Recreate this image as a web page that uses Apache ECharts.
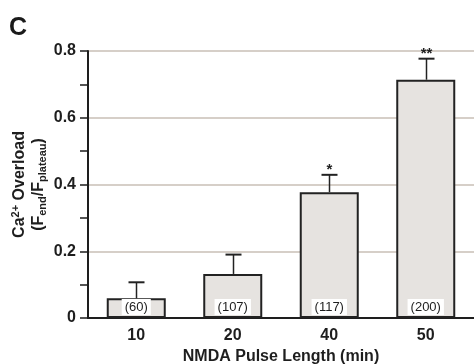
<!DOCTYPE html>
<html><head><meta charset="utf-8">
<script src="https://cdn.jsdelivr.net/npm/echarts@6/dist/echarts.min.js"></script>
<style>html,body{margin:0;padding:0;background:#fff}#c{width:474px;height:364px}</style>
</head><body><div id="c"></div>
<script>
var categories = ['10', '20', '40', '50'];
var means = [0.059, 0.132, 0.377, 0.714];
var errTops = [0.107, 0.190, 0.429, 0.777];
var counts = ['(60)', '(107)', '(117)', '(200)'];
var stars = ['', '', '*', '**'];
var yTicks = [0, 0.2, 0.4, 0.6, 0.8];

var FONT = '"Liberation Sans", Arial, sans-serif';
var chart = echarts.init(document.getElementById('c'), null, {renderer: 'canvas'});
var option = {
  animation: false,
  textStyle: {fontFamily: FONT},
  graphic: [{
    type: 'text', left: 9, top: 16,
    style: {text: 'C', font: 'bold 25px ' + FONT, fill: '#1a1a1a'}
  }],
  grid: {left: 88, right: 0, top: 51, bottom: 46, outerBoundsMode: 'none', containLabel: false},
  xAxis: {
    type: 'category', data: categories,
    axisLine: {lineStyle: {color: '#1e1e1e', width: 2}},
    axisTick: {show: false},
    axisLabel: {fontSize: 16, fontWeight: 'bold', color: '#1e1e1e', margin: 10, fontFamily: FONT},
    name: 'NMDA Pulse Length (min)', nameLocation: 'middle', nameGap: 31,
    nameMoveOverlap: false,
    nameTextStyle: {fontSize: 16, fontWeight: 'bold', color: '#1e1e1e', fontFamily: FONT}
  },
  yAxis: {
    type: 'value', min: 0, max: yTicks[yTicks.length - 1], interval: 0.2,
    axisLine: {show: true, lineStyle: {color: '#1e1e1e', width: 2}},
    axisTick: {show: true, length: 8, lineStyle: {color: '#1e1e1e', width: 1.5}},
    minorTick: {show: true, splitNumber: 2, length: 8, lineStyle: {color: '#1e1e1e', width: 1.5}},
    axisLabel: {
      fontSize: 16, fontWeight: 'bold', color: '#1e1e1e', margin: 12, fontFamily: FONT,
      formatter: function (v) { return v === 0 ? '0' : v.toFixed(1); }
    },
    splitLine: {show: true, lineStyle: {color: '#c9bfb6', width: 1.5}},
    name: '{a|Ca}{sup|2+}{a| Overload}\n{a|(F}{sub|end}{a|/F}{sub|plateau}{a|)}',
    nameLocation: 'middle', nameRotate: 90, nameGap: 40,
    nameMoveOverlap: false,
    nameTextStyle: {
      lineHeight: 19,
      rich: {
        a: {fontSize: 16, fontWeight: 'bold', color: '#1e1e1e', fontFamily: FONT, lineHeight: 19},
        sup: {fontSize: 11, fontWeight: 'bold', color: '#1e1e1e', fontFamily: FONT, verticalAlign: 'top', lineHeight: 19, padding: [0, 0, 8, 0]},
        sub: {fontSize: 11, fontWeight: 'bold', color: '#1e1e1e', fontFamily: FONT, verticalAlign: 'bottom', lineHeight: 19, padding: [6, 0, 0, 0]}
      }
    }
  },
  series: [{
    type: 'bar', data: means, barWidth: 59,
    itemStyle: {color: '#e6e3e0', borderColor: '#222', borderWidth: 2},
    label: {
      show: true, position: 'insideBottom', distance: 3,
      formatter: function (p) { return counts[p.dataIndex]; },
      fontSize: 13, color: '#1e1e1e', fontFamily: FONT,
      backgroundColor: '#ffffff', padding: [2, 3, 1, 3]
    },
    z: 2
  }, {
    type: 'custom', z: 3,
    data: categories.map(function (c, i) { return [i, means[i], errTops[i]]; }),
    renderItem: function (params, api) {
      var i = api.value(0);
      var pLow = api.coord([i, api.value(1)]);
      var pHigh = api.coord([i, api.value(2)]);
      var x = Math.round(pLow[0]) + 0.5;
      var children = [
        {type: 'line', shape: {x1: x, y1: pLow[1], x2: x, y2: pHigh[1]}, style: {stroke: '#222', lineWidth: 1.5}},
        {type: 'line', shape: {x1: x - 8, y1: pHigh[1], x2: x + 8, y2: pHigh[1]}, style: {stroke: '#222', lineWidth: 2}}
      ];
      var s = stars[params.dataIndex];
      if (s) {
        children.push({type: 'text', style: {text: s, x: x, y: pHigh[1] + 3, textAlign: 'center', textVerticalAlign: 'bottom', font: 'bold 15px ' + FONT, fill: '#222'}});
      }
      return {type: 'group', children: children};
    }
  }]
};
chart.setOption(option);
</script>
</body></html>
